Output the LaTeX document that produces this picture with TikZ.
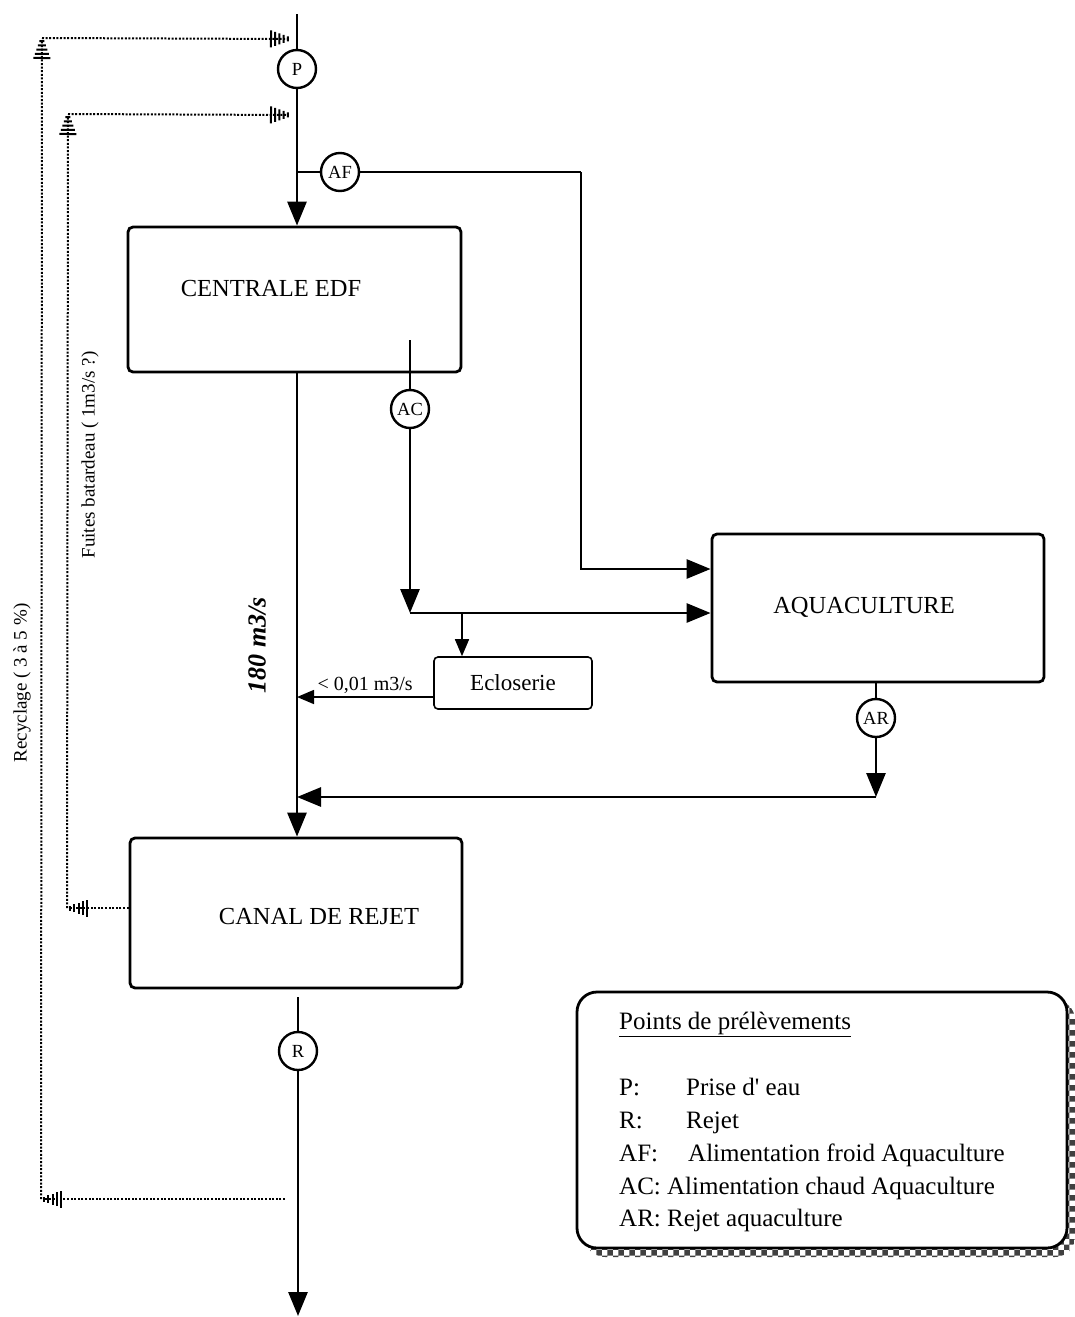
\documentclass[tikz,border=0pt]{standalone}
\usepackage{fontspec}
\setmainfont{Liberation Serif}
\usetikzlibrary{arrows.meta,patterns,calc}
\begin{document}
\begin{tikzpicture}[x=1pt,y=-1pt,
  flow/.style={line width=2.8pt},
  big/.style={flow,-{Triangle[length=24pt,width=19pt]}},
  small/.style={line width=1.6pt,-{Triangle[length=17pt,width=14pt]}},
  box/.style={draw,line width=2.8pt,rounded corners=5pt,inner sep=0pt},
  circ/.style={draw,circle,fill=white,line width=2.4pt,minimum size=38pt,inner sep=0pt,font=\fontsize{18.5}{18}\selectfont},
  dots/.style={line width=2pt,dash pattern=on 2pt off 1.6pt},
  comb/.style={-{Bar[width=17pt,line width=2pt,sep=2.2pt] Bar[width=14pt,line width=2pt,sep=2.2pt] Bar[width=11pt,line width=2pt,sep=2.2pt] Bar[width=8pt,line width=2pt,sep=2.2pt] Bar[width=5pt,line width=2pt,sep=2.2pt]}},
  boxtext/.style={font=\fontsize{24.5}{28}\selectfont,inner sep=0pt},
  legtext/.style={font=\fontsize{25}{28}\selectfont,anchor=base west,inner sep=0pt},
  sidetext/.style={font=\fontsize{19}{22}\selectfont,rotate=90,inner sep=0pt}
]
\useasboundingbox (0,0) rectangle (1075,1317);

% ---------- boxes ----------
\node[box,minimum width=333pt,minimum height=145pt] (edf) at (294.5,299.5) {};
\node[boxtext] (edft) at (271,289) {CENTRALE EDF};
\node[box,minimum width=332pt,minimum height=148pt] (aqua) at (878,608) {};
\node[boxtext] (aquat) at (864,607) {AQUACULTURE};
\node[box,minimum width=332pt,minimum height=150pt] (canal) at (296,913) {};
\node[boxtext] (canalt) at (319,916) {CANAL DE REJET};
\node[draw,line width=1.6pt,rounded corners=4pt,minimum width=158pt,minimum height=52pt,inner sep=0pt,
      font=\fontsize{23}{26}\selectfont] (eclo) at (513,683) {Ecloserie};

% ---------- coordinates ----------
\coordinate (top) at (297,14);
\coordinate (jAF) at (297,172);
\coordinate (cAF) at (581,172);
\coordinate (acs) at (410,340);
\coordinate (acj) at (410,613);
\coordinate (eb) at (462,613);
\coordinate (jE) at (297,697);
\coordinate (arj) at (876,797);
\coordinate (jAR) at (297,797);
\coordinate (cbt) at (298,997);
\coordinate (bot) at (298,1316);

% ---------- sampling points ----------
\node[circ] (P) at (297,69) {P};
\node[circ] (AF) at (340,172) {AF};
\node[circ] (AC) at (410,409) {AC};
\node[circ] (AR) at (876,718) {AR};
\node[circ] (R) at (298,1051) {R};

% ---------- main flow ----------
\draw[flow] (top) -- (P);
\draw[big] (P) -- (edf.north -| top);
\draw[flow] (jAF) -- (AF);
\draw[flow] (AF) -- (cAF);
\draw[big] (cAF) |- (aqua.west |- 0,569);
\draw[flow] (acs) -- (AC);
\draw[big] (AC) -- (acj);
\draw[big] (acj) -- (aqua.west |- acj);
\draw[small] (eb) -- (eclo.north -| eb);
\draw[small] (eclo.west |- jE) -- (jE)
  node[midway,above=3pt,font=\fontsize{20}{22}\selectfont,inner sep=0pt] {< 0,01 m3/s};
\draw[flow] (aqua.south -| AR) -- (AR);
\draw[big] (AR) -- (arj);
\draw[big] (arj) -- (jAR);
\draw[big] (edf.south -| top) -- (canal.north -| top);
\node[rotate=90,font=\fontsize{26}{30}\selectfont\bfseries\itshape,inner sep=0pt] (debit) at (257,645) {180 m3/s};
\draw[flow] (cbt) -- (R);
\draw[big] (R) -- (bot);

% ---------- dotted returns ----------
\coordinate (rc1) at (285,1199);
\coordinate (rc2) at (41,1199);
\coordinate (rc3) at (42,38);
\coordinate (rc4) at (291,39);
\draw[dots,comb] (rc1) -- (rc2);
\draw[dots,comb] (rc2) -- (rc3);
\draw[dots,comb] (rc3) -- (rc4);

\coordinate (fb) at (67,908);
\coordinate (fc) at (68,114);
\coordinate (fd) at (291,115);
\draw[dots,comb] (canal.west |- fb) -- (fb);
\draw[dots,comb] (fb) -- (fc);
\draw[dots,comb] (fc) -- (fd);

\node[sidetext] (recy) at (22,683) {Recyclage ( 3 à 5 \%)};
\node[sidetext] (fuit) at (90,455) {Fuites batardeau ( 1m3/s ?)};

% ---------- legend ----------
\fill[pattern=checkerboard,pattern color=black!75,rounded corners=20pt] (585,1000) rectangle (1075,1257);
\draw[line width=2.8pt,fill=white,rounded corners=20pt] (577,992) rectangle (1067,1248);
\node[legtext] (lt) at (619,1029) {\underline{Points de prélèvements}};
\node[legtext] (l1) at (619,1095) {P:};
\node[legtext] (l1b) at (686,1095) {Prise d\textquotesingle{} eau};
\node[legtext] (l2) at (619,1128) {R:};
\node[legtext] (l2b) at (686,1128) {Rejet};
\node[legtext] (l3) at (619,1161) {AF:};
\node[legtext] (l3b) at (688,1161) {Alimentation froid Aquaculture};
\node[legtext] (l4) at (619,1194) {AC: Alimentation chaud Aquaculture};
\node[legtext] (l5) at (619,1226) {AR: Rejet aquaculture};
\end{tikzpicture}
\end{document}
